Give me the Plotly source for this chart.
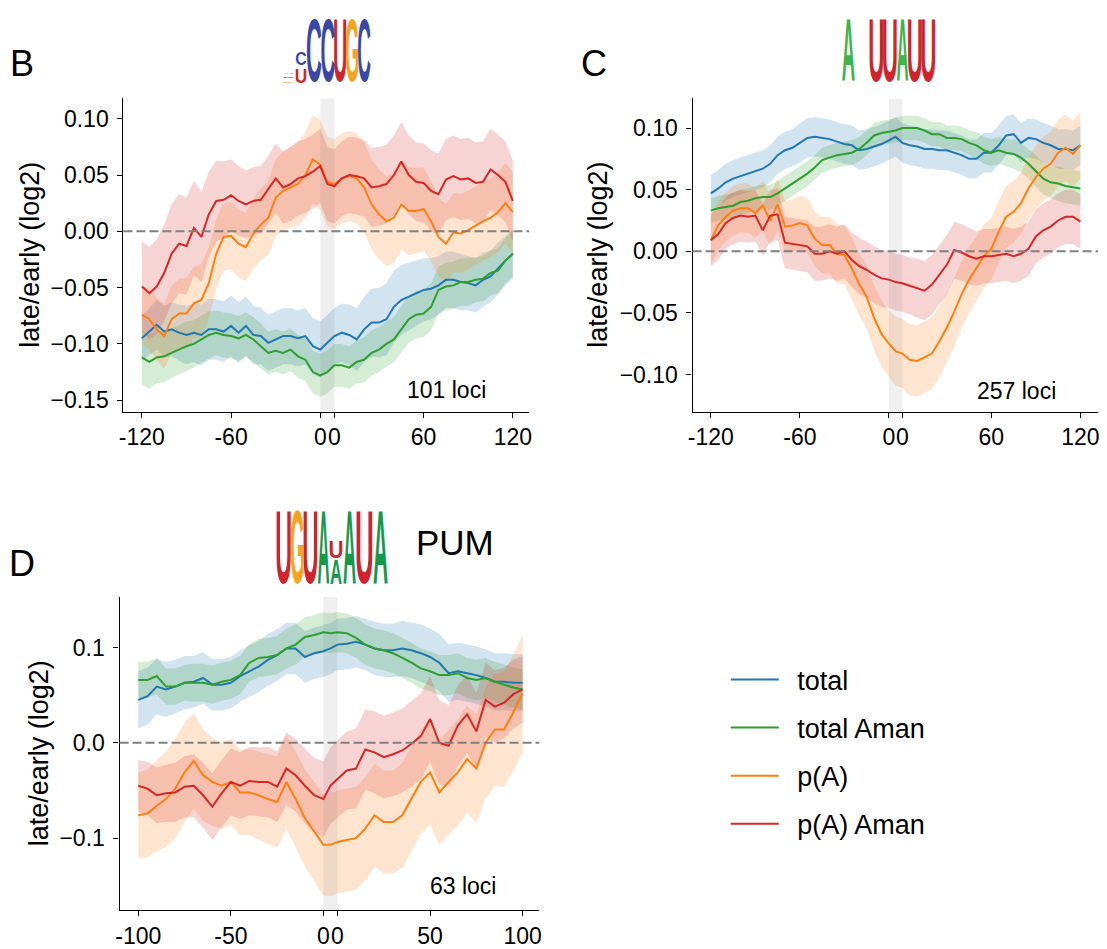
import json
import plotly.graph_objects as go

W, H = 1107, 949
FONT = "Liberation Sans"

# ------------------------------------------------------------------ data
# positions (nt) left of the motif, the motif centre, and right of the motif
POS_B_LEFT = [-120, -115, -110, -105, -100, -95, -90, -85, -80, -75, -70, -65, -60,
              -55, -50, -45, -40, -35, -30, -25, -20, -15, -10, -5, 0]
POS_B_RIGHT = [0, 5, 10, 15, 20, 25, 30, 35, 40, 45, 50, 55, 60, 65, 70, 75, 80,
               85, 90, 95, 100, 105, 110, 115, 120]
POS_D_LEFT = [-100, -95, -90, -85, -80, -75, -70, -65, -60, -55, -50, -45, -40,
              -35, -30, -25, -20, -15, -10, -5, 0]
POS_D_RIGHT = [0, 5, 10, 15, 20, 25, 30, 35, 40, 45, 50, 55, 60, 65, 70, 75, 80,
               85, 90, 95, 100]
MOTIF_B, MOTIF_C, MOTIF_D = 9.5, 9.0, 7.6   # motif width in axis units

SERIES = ["total", "total Aman", "p(A)", "p(A) Aman"]

# Panel B (CCUGC, 101 loci): values = left(25) + motif centre(1) + right(25)
B_TOTAL = [-0.095, -0.089, -0.083, -0.089, -0.087, -0.090, -0.092, -0.090, -0.092, -0.087, -0.087, -0.089, -0.084,
           -0.090, -0.084, -0.092, -0.093, -0.099, -0.096, -0.093, -0.093, -0.095, -0.093, -0.102, -0.105,
           -0.099,
           -0.093, -0.090, -0.092, -0.096, -0.087, -0.081, -0.081, -0.078, -0.067, -0.061, -0.058, -0.055, -0.052,
           -0.051, -0.048, -0.043, -0.043, -0.045, -0.046, -0.048, -0.043, -0.040, -0.033, -0.026, -0.020]
B_TOTAL_HW = [0.020, 0.021, 0.022, 0.023, 0.024, 0.025, 0.026, 0.026, 0.027, 0.027, 0.027, 0.027, 0.027,
              0.027, 0.026, 0.026, 0.025, 0.025, 0.025, 0.025, 0.025, 0.025, 0.025, 0.025, 0.025,
              0.025,
              0.025, 0.026, 0.027, 0.028, 0.029, 0.030, 0.031, 0.032, 0.032, 0.031, 0.030, 0.029, 0.028,
              0.027, 0.026, 0.025, 0.025, 0.025, 0.024, 0.024, 0.024, 0.023, 0.023, 0.022, 0.022]
B_TOTAL_AMAN = [-0.112, -0.116, -0.112, -0.111, -0.108, -0.105, -0.102, -0.100, -0.096, -0.092, -0.090, -0.092, -0.093,
                -0.095, -0.092, -0.096, -0.102, -0.108, -0.106, -0.108, -0.105, -0.111, -0.114, -0.125, -0.128,
                -0.125,
                -0.119, -0.119, -0.121, -0.116, -0.114, -0.108, -0.105, -0.100, -0.096, -0.087, -0.078, -0.074, -0.073,
                -0.067, -0.052, -0.049, -0.048, -0.045, -0.045, -0.043, -0.042, -0.037, -0.035, -0.026, -0.020]
B_TOTAL_AMAN_HW = [0.024, 0.024, 0.023, 0.023, 0.022, 0.022, 0.022, 0.021, 0.021, 0.021, 0.020, 0.020, 0.020,
                   0.020, 0.020, 0.020, 0.020, 0.019, 0.019, 0.019, 0.019, 0.019, 0.019, 0.019, 0.019,
                   0.019,
                   0.019, 0.019, 0.019, 0.019, 0.020, 0.020, 0.020, 0.020, 0.020, 0.020, 0.021, 0.021, 0.021,
                   0.021, 0.021, 0.021, 0.021, 0.021, 0.021, 0.020, 0.020, 0.020, 0.020, 0.020, 0.020]
B_PA = [-0.074, -0.078, -0.087, -0.093, -0.078, -0.073, -0.073, -0.064, -0.061, -0.046, -0.020, -0.005, -0.004,
        -0.011, -0.014, -0.002, 0.006, 0.012, 0.030, 0.036, 0.039, 0.042, 0.050, 0.064, 0.059,
        0.044,
        0.042, 0.047, 0.049, 0.047, 0.039, 0.024, 0.015, 0.009, 0.012, 0.024, 0.018, 0.018, 0.020,
        0.009, -0.005, -0.011, -0.001, -0.002, 0.001, 0.005, 0.009, 0.012, 0.017, 0.025, 0.017]
B_PA_HW = [0.026, 0.027, 0.028, 0.029, 0.030, 0.031, 0.032, 0.032, 0.032, 0.032, 0.031, 0.030, 0.030,
           0.030, 0.030, 0.031, 0.032, 0.033, 0.034, 0.035, 0.036, 0.037, 0.038, 0.039, 0.040,
           0.040,
           0.040, 0.040, 0.040, 0.040, 0.040, 0.040, 0.040, 0.040, 0.040, 0.040, 0.039, 0.038, 0.037,
           0.036, 0.035, 0.035, 0.035, 0.035, 0.035, 0.035, 0.035, 0.035, 0.036, 0.036, 0.036]
B_PA_AMAN = [-0.049, -0.055, -0.049, -0.037, -0.020, -0.011, -0.013, 0.003, -0.005, 0.015, 0.027, 0.028, 0.032,
             0.027, 0.024, 0.027, 0.028, 0.037, 0.047, 0.039, 0.042, 0.047, 0.049, 0.053, 0.058,
             0.042,
             0.040, 0.047, 0.050, 0.049, 0.047, 0.039, 0.040, 0.042, 0.050, 0.062, 0.050, 0.044, 0.043,
             0.036, 0.033, 0.046, 0.049, 0.046, 0.047, 0.043, 0.044, 0.055, 0.050, 0.044, 0.027]
B_PA_AMAN_HW = [0.040, 0.041, 0.042, 0.043, 0.044, 0.044, 0.043, 0.042, 0.040, 0.038, 0.036, 0.034, 0.032,
                0.031, 0.030, 0.030, 0.030, 0.030, 0.031, 0.032, 0.033, 0.033, 0.033, 0.033, 0.033,
                0.033,
                0.033, 0.033, 0.034, 0.034, 0.034, 0.035, 0.035, 0.035, 0.035, 0.035, 0.035, 0.035, 0.035,
                0.036, 0.036, 0.036, 0.036, 0.036, 0.036, 0.036, 0.036, 0.036, 0.036, 0.036, 0.036]

# Panel C (A UUAUU, 257 loci)
C_TOTAL = [0.047, 0.051, 0.056, 0.059, 0.061, 0.063, 0.065, 0.067, 0.071, 0.078, 0.082, 0.084, 0.088,
           0.092, 0.093, 0.092, 0.091, 0.089, 0.087, 0.086, 0.082, 0.083, 0.085, 0.087, 0.090,
           0.093,
           0.088, 0.086, 0.085, 0.083, 0.083, 0.082, 0.082, 0.080, 0.078, 0.075, 0.075, 0.080, 0.080,
           0.086, 0.094, 0.095, 0.088, 0.092, 0.091, 0.088, 0.086, 0.083, 0.083, 0.082, 0.086]
C_TOTAL_HW = [0.015, 0.015, 0.015, 0.015, 0.015, 0.015, 0.015, 0.015, 0.015, 0.015, 0.015, 0.015, 0.016,
              0.016, 0.016, 0.016, 0.016, 0.016, 0.016, 0.016, 0.016, 0.016, 0.016, 0.016, 0.016,
              0.016,
              0.016, 0.016, 0.016, 0.016, 0.016, 0.016, 0.016, 0.016, 0.016, 0.016, 0.016, 0.016, 0.016,
              0.016, 0.016, 0.016, 0.016, 0.016, 0.016, 0.016, 0.016, 0.016, 0.016, 0.016, 0.016]
C_TOTAL_AMAN = [0.033, 0.035, 0.036, 0.037, 0.040, 0.041, 0.043, 0.044, 0.044, 0.047, 0.051, 0.055, 0.059,
                0.063, 0.068, 0.074, 0.076, 0.078, 0.079, 0.080, 0.083, 0.088, 0.094, 0.096, 0.097,
                0.098,
                0.100, 0.100, 0.100, 0.098, 0.095, 0.095, 0.092, 0.092, 0.091, 0.088, 0.086, 0.082, 0.080,
                0.082, 0.080, 0.079, 0.076, 0.071, 0.065, 0.059, 0.056, 0.055, 0.053, 0.052, 0.051]
C_TOTAL_AMAN_HW = [0.010, 0.010, 0.010, 0.010, 0.010, 0.010, 0.010, 0.010, 0.010, 0.010, 0.010, 0.010, 0.010,
                   0.010, 0.010, 0.010, 0.010, 0.010, 0.010, 0.010, 0.010, 0.010, 0.010, 0.010, 0.010,
                   0.010,
                   0.010, 0.010, 0.010, 0.010, 0.010, 0.010, 0.010, 0.010, 0.010, 0.010, 0.011, 0.011, 0.011,
                   0.011, 0.011, 0.012, 0.012, 0.012, 0.013, 0.013, 0.013, 0.014, 0.014, 0.014, 0.014]
C_PA = [0.009, 0.021, 0.028, 0.033, 0.035, 0.035, 0.031, 0.037, 0.025, 0.038, 0.020, 0.021, 0.023,
        0.021, 0.010, 0.005, 0.005, -0.002, -0.003, -0.014, -0.027, -0.037, -0.054, -0.067, -0.075,
        -0.081,
        -0.083, -0.088, -0.089, -0.086, -0.083, -0.073, -0.062, -0.049, -0.035, -0.023, -0.014, -0.004, 0.002,
        0.016, 0.028, 0.032, 0.039, 0.051, 0.060, 0.067, 0.071, 0.080, 0.084, 0.079, 0.086]
C_PA_HW = [0.020, 0.020, 0.020, 0.020, 0.020, 0.020, 0.020, 0.020, 0.021, 0.021, 0.021, 0.021, 0.022,
           0.022, 0.022, 0.023, 0.023, 0.024, 0.024, 0.025, 0.025, 0.026, 0.026, 0.027, 0.027,
           0.028,
           0.028, 0.029, 0.029, 0.029, 0.029, 0.029, 0.028, 0.028, 0.027, 0.027, 0.026, 0.026, 0.025,
           0.025, 0.025, 0.025, 0.025, 0.025, 0.026, 0.026, 0.026, 0.027, 0.027, 0.027, 0.027]
C_PA_AMAN = [0.009, 0.014, 0.023, 0.027, 0.029, 0.028, 0.029, 0.017, 0.029, 0.030, 0.007, 0.006, 0.005,
             0.004, -0.002, -0.002, 0.000, -0.002, 0.000, -0.007, -0.012, -0.015, -0.019, -0.022, -0.023,
             -0.025,
             -0.026, -0.028, -0.030, -0.032, -0.027, -0.019, -0.011, 0.001, -0.001, -0.004, -0.006, -0.004, -0.004,
             -0.003, -0.002, -0.004, -0.002, 0.002, 0.012, 0.017, 0.020, 0.025, 0.028, 0.028, 0.024]
C_PA_AMAN_HW = [0.021, 0.021, 0.021, 0.021, 0.021, 0.021, 0.021, 0.021, 0.021, 0.021, 0.021, 0.021, 0.021,
                0.021, 0.022, 0.022, 0.022, 0.022, 0.022, 0.022, 0.023, 0.023, 0.023, 0.023, 0.023,
                0.023,
                0.023, 0.023, 0.024, 0.024, 0.024, 0.024, 0.024, 0.023, 0.023, 0.023, 0.022, 0.022, 0.022,
                0.022, 0.022, 0.022, 0.022, 0.022, 0.022, 0.022, 0.022, 0.022, 0.022, 0.022, 0.022]

# Panel D (UGUAxAUA, PUM, 63 loci): values = left(21) + motif centre(1) + right(21)
D_TOTAL = [0.045, 0.049, 0.059, 0.056, 0.059, 0.063, 0.064, 0.068, 0.061, 0.061, 0.063, 0.070, 0.075,
           0.080, 0.087, 0.092, 0.099, 0.099, 0.090, 0.094, 0.096,
           0.099,
           0.103, 0.104, 0.106, 0.103, 0.099, 0.097, 0.097, 0.099, 0.097, 0.094, 0.090, 0.084, 0.073,
           0.075, 0.073, 0.071, 0.068, 0.064, 0.064, 0.063, 0.063]
D_TOTAL_HW = [0.030, 0.030, 0.029, 0.029, 0.028, 0.028, 0.027, 0.027, 0.027, 0.027, 0.027, 0.027, 0.027,
              0.027, 0.027, 0.027, 0.027, 0.027, 0.027, 0.027, 0.027,
              0.027,
              0.027, 0.027, 0.027, 0.027, 0.028, 0.028, 0.028, 0.029, 0.029, 0.030, 0.030, 0.030, 0.030,
              0.030, 0.030, 0.030, 0.030, 0.030, 0.030, 0.030, 0.030]
D_TOTAL_AMAN = [0.066, 0.066, 0.070, 0.059, 0.059, 0.063, 0.063, 0.063, 0.061, 0.064, 0.066, 0.071, 0.084,
                0.089, 0.090, 0.092, 0.099, 0.103, 0.111, 0.113, 0.116,
                0.115,
                0.116, 0.115, 0.110, 0.103, 0.099, 0.097, 0.094, 0.089, 0.084, 0.078, 0.075, 0.071, 0.071,
                0.073, 0.068, 0.066, 0.068, 0.064, 0.061, 0.058, 0.056]
D_TOTAL_AMAN_HW = [0.019, 0.019, 0.019, 0.019, 0.019, 0.019, 0.020, 0.020, 0.020, 0.020, 0.020, 0.020, 0.020,
                   0.020, 0.020, 0.020, 0.021, 0.021, 0.021, 0.021, 0.021,
                   0.021,
                   0.021, 0.021, 0.021, 0.021, 0.021, 0.021, 0.021, 0.021, 0.021, 0.021, 0.021, 0.021, 0.021,
                   0.021, 0.021, 0.021, 0.021, 0.021, 0.021, 0.021, 0.021]
D_PA = [-0.076, -0.074, -0.066, -0.059, -0.048, -0.031, -0.019, -0.034, -0.041, -0.045, -0.041, -0.052, -0.052,
        -0.055, -0.059, -0.062, -0.041, -0.059, -0.079, -0.093, -0.107,
        -0.107,
        -0.104, -0.102, -0.100, -0.090, -0.076, -0.083, -0.083, -0.076, -0.059, -0.041, -0.031, -0.052, -0.041,
        -0.031, -0.017, -0.027, 0.000, 0.014, 0.014, 0.032, 0.052]
D_PA_HW = [0.045, 0.046, 0.048, 0.050, 0.052, 0.052, 0.050, 0.048, 0.046, 0.045, 0.045, 0.045, 0.045,
           0.046, 0.047, 0.048, 0.049, 0.050, 0.051, 0.052, 0.053,
           0.054,
           0.054, 0.054, 0.054, 0.054, 0.054, 0.054, 0.054, 0.055, 0.055, 0.055, 0.055, 0.055, 0.055,
           0.056, 0.056, 0.057, 0.058, 0.059, 0.060, 0.061, 0.062]
D_PA_AMAN = [-0.045, -0.048, -0.055, -0.053, -0.052, -0.046, -0.045, -0.055, -0.067, -0.053, -0.041, -0.045, -0.040,
             -0.041, -0.041, -0.046, -0.027, -0.034, -0.045, -0.055, -0.059,
             -0.045,
             -0.038, -0.029, -0.027, -0.007, -0.010, -0.015, -0.012, -0.008, -0.001, 0.007, 0.025, 0.000, -0.003,
             0.018, 0.030, 0.012, 0.045, 0.038, 0.042, 0.051, 0.056]
D_PA_AMAN_HW = [0.027, 0.028, 0.029, 0.030, 0.031, 0.032, 0.033, 0.034, 0.035, 0.035, 0.035, 0.035, 0.036,
                0.036, 0.037, 0.037, 0.038, 0.038, 0.039, 0.039, 0.040,
                0.040,
                0.041, 0.041, 0.042, 0.042, 0.043, 0.043, 0.044, 0.044, 0.045, 0.045, 0.045, 0.044, 0.043,
                0.042, 0.041, 0.040, 0.039, 0.038, 0.037, 0.036, 0.035]

LOCI = ["101 loci", "257 loci", "63 loci"]
PANEL_LETTERS = ["B", "C", "D"]
Y_TITLE = "late/early (log2)"

# sequence logos: letter, colour key, pixel box x0, x1, y0, y1
LOGO_B = [("A", "Ag", 283, 294, 72.3, 74.0), ("C", "C", 283, 294, 76.8, 78.5), ("G", "G", 283, 294, 81.3, 83.0),
          ("C", "C", 296, 306, 51.7, 65.5), ("U", "U", 296, 306, 68.0, 83.0),
          ("C", "C", 307, 321, 17, 83), ("C", "C", 321.5, 334.5, 17, 83), ("U", "U", 334.5, 346, 17, 83),
          ("G", "G", 346, 358, 17, 83), ("C", "C", 358, 370, 17, 83)]
LOGO_C = [("A", "Ag", 841.7, 855, 17, 83), ("U", "U", 870, 883, 17, 83), ("U", "U", 883.5, 896.5, 17, 83),
          ("A", "Ag", 896.5, 908.5, 17, 83), ("U", "U", 908.5, 921.5, 17, 83), ("U", "U", 922, 935, 17, 83)]
LOGO_D = [("U", "U", 277, 290.5, 508, 585), ("G", "G", 291, 303.5, 508, 585), ("U", "U", 304, 317, 508, 585),
          ("A", "Ad", 317.5, 329.5, 508, 585), ("U", "U", 330, 342, 540, 558), ("A", "Ad", 330, 342, 559, 585),
          ("A", "Ad", 343, 356, 508, 585), ("U", "U", 357, 372, 508, 585), ("A", "Ad", 373, 388, 508, 585)]

# ------------------------------------------------------------------ style
COLORS = ["#1f77b4", "#2ca02c", "#ff7f0e", "#d62728"]
FILLS = ["rgba(31,119,180,0.2)", "rgba(44,160,44,0.2)", "rgba(255,127,14,0.2)", "rgba(214,39,40,0.2)"]
LOGO_COL = {"C": "#3a47a6", "U": "#d2232c", "G": "#f5a51d", "Ag": "#3db54a", "Ad": "#14994b"}
INSET = {"U": (0.073, 0.072), "C": (0.044, 0.045), "G": (0.044, 0.061), "A": (0.0, 0.004)}

panels = [
    dict(left=POS_B_LEFT, right=POS_B_RIGHT, w=MOTIF_B,
         series=[(B_TOTAL, B_TOTAL_HW), (B_TOTAL_AMAN, B_TOTAL_AMAN_HW), (B_PA, B_PA_HW), (B_PA_AMAN, B_PA_AMAN_HW)],
         xdom=[119.3 / W, 528.0 / W], ydom=[1 - 415 / H, 1 - 99.3 / H],
         xr=[-132.4, 140.5], yr=[-0.160, 0.118],
         xt=[-120, -60, 0, 0, 60, 120], yt=[-0.15, -0.10, -0.05, 0.0, 0.05, 0.10], yfmt="{:.2f}",
         ytitle_x=25, loci_x=487, loci_y=393, letter_x=3, letter_y=64),
    dict(left=POS_B_LEFT, right=POS_B_RIGHT, w=MOTIF_C,
         series=[(C_TOTAL, C_TOTAL_HW), (C_TOTAL_AMAN, C_TOTAL_AMAN_HW), (C_PA, C_PA_HW), (C_PA_AMAN, C_PA_AMAN_HW)],
         xdom=[692.6 / W, 1101 / W], ydom=[1 - 415 / H, 1 - 99.3 / H],
         xr=[-132.3, 140.9], yr=[-0.130, 0.124],
         xt=[-120, -60, 0, 0, 60, 120], yt=[-0.10, -0.05, 0.0, 0.05, 0.10], yfmt="{:.2f}",
         ytitle_x=597, loci_x=1061, loci_y=394.5, letter_x=578, letter_y=64),
    dict(left=POS_D_LEFT, right=POS_D_RIGHT, w=MOTIF_D,
         series=[(D_TOTAL, D_TOTAL_HW), (D_TOTAL_AMAN, D_TOTAL_AMAN_HW), (D_PA, D_PA_HW), (D_PA_AMAN, D_PA_AMAN_HW)],
         xdom=[115.4 / W, 538.2 / W], ydom=[1 - 918 / H, 1 - 602 / H],
         xr=[-110.1, 116.6], yr=[-0.1756, 0.153],
         xt=[-100, -50, 0, 0, 50, 100], yt=[-0.1, 0.0, 0.1], yfmt="{:.1f}",
         ytitle_x=34, loci_x=497, loci_y=894, letter_x=2, letter_y=568),
]

fig = go.Figure()
annotations = []
logo_specs = []

# logos first so their annotation indices are 0..N-1
for letters in (LOGO_B, LOGO_C, LOGO_D):
    for (ch, ck, x0, x1, y0, y1) in letters:
        annotations.append(dict(text=ch, xref="paper", yref="paper",
                                x=(x0 + x1) / 2 / W, y=1 - (y0 + y1) / 2 / H,
                                xanchor="center", yanchor="middle", showarrow=False,
                                font=dict(family=FONT, size=20, color=LOGO_COL[ck], weight="bold")))
        il, ir = INSET[ch]
        logo_specs.append([x0, x1, y0, y1, il, ir])

for i, p in enumerate(panels):
    ax = "" if i == 0 else str(i + 1)
    xa, ya = "x" + ax, "y" + ax
    w = p["w"]
    xs = list(p["left"]) + [w / 2] + [r + w for r in p["right"]]
    # confidence bands
    for k, (vals, hw) in enumerate(p["series"]):
        up = [v + h for v, h in zip(vals, hw)]
        lo = [v - h for v, h in zip(vals, hw)]
        fig.add_trace(go.Scatter(x=xs + xs[::-1], y=up + lo[::-1], fill="toself",
                                 fillcolor=FILLS[k], line=dict(width=0), mode="lines",
                                 hoverinfo="skip", showlegend=False, xaxis=xa, yaxis=ya))
    # motif region
    y0r, y1r = p["yr"]
    fig.add_trace(go.Scatter(x=[0, w, w, 0, 0], y=[y0r, y0r, y1r, y1r, y0r], fill="toself",
                             fillcolor="rgba(128,128,128,0.13)", line=dict(width=0), mode="lines",
                             hoverinfo="skip", showlegend=False, xaxis=xa, yaxis=ya))
    # mean lines
    for k, (vals, hw) in enumerate(p["series"]):
        fig.add_trace(go.Scatter(x=xs, y=vals, mode="lines", name="\u2002" + SERIES[k],
                                 line=dict(color=COLORS[k], width=2),
                                 legendgroup=SERIES[k], showlegend=(i == 0),
                                 xaxis=xa, yaxis=ya))
    # zero line
    fig.add_shape(type="line", xref=xa + " domain", yref=ya, x0=0, x1=1, y0=0, y1=0,
                  line=dict(color="#808080", width=2, dash="9px,4px"), layer="above")

    xt = p["xt"]
    tickvals_x = [xt[0], xt[1], xt[2], xt[3] + w, xt[4] + w, xt[5] + w]
    ticktext_x = ["{:d}".format(v) for v in xt]
    axis_common = dict(showline=True, linecolor="black", linewidth=1.3, ticks="outside",
                       ticklen=5, tickwidth=1.3, tickcolor="black", showgrid=False,
                       zeroline=False, mirror=False,
                       tickfont=dict(family=FONT, size=23, color="black"))
    fig.layout["xaxis" + ax] = dict(domain=p["xdom"], range=p["xr"], anchor=ya,
                                    tickmode="array", tickvals=tickvals_x, ticktext=ticktext_x,
                                    tickangle=0, **axis_common)
    fig.layout["yaxis" + ax] = dict(domain=p["ydom"], range=p["yr"], anchor=xa,
                                    tickmode="array", tickvals=p["yt"],
                                    ticktext=[p["yfmt"].format(v).replace("-", "\u2212") for v in p["yt"]],
                                    ticklabelstandoff=4, **axis_common)
    annotations.append(dict(text=Y_TITLE, xref="paper", yref="paper", x=p["ytitle_x"] / W,
                            y=(p["ydom"][0] + p["ydom"][1]) / 2, textangle=-90,
                            xanchor="center", yanchor="middle", showarrow=False,
                            font=dict(family=FONT, size=27, color="black")))
    annotations.append(dict(text=LOCI[i], xref="paper", yref="paper", x=p["loci_x"] / W,
                            y=1 - p["loci_y"] / H, xanchor="right", yanchor="middle",
                            showarrow=False, font=dict(family=FONT, size=23, color="black")))
    annotations.append(dict(text=PANEL_LETTERS[i], xref="paper", yref="paper", x=p["letter_x"] / W,
                            y=1 - p["letter_y"] / H, xanchor="left", yanchor="middle",
                            showarrow=False, font=dict(family=FONT, size=36, color="black")))

annotations.append(dict(text="PUM", xref="paper", yref="paper", x=412 / W, y=1 - 547.5 / H,
                        xanchor="left", yanchor="middle", showarrow=False,
                        font=dict(family=FONT, size=35, color="black")))

fig.update_layout(
    width=W, height=H, margin=dict(l=0, r=0, t=0, b=0),
    paper_bgcolor="white", plot_bgcolor="white",
    font=dict(family=FONT, color="black"),
    annotations=annotations,
    showlegend=True,
    legend=dict(x=726 / W, y=1 - 661 / H, xanchor="left", yanchor="top",
                font=dict(family=FONT, size=27, color="black"),
                itemwidth=48, tracegroupgap=10, traceorder="grouped",
                bgcolor="rgba(0,0,0,0)", borderwidth=0),
)

post = """
document.body.style.margin = '0';
var gd = document.getElementById('{plot_id}');
var specs = SPECS;
var groups = gd.querySelectorAll('g.annotation');
for (var k = 0; k < groups.length; k++) {
  var g = groups[k];
  var idx = parseInt(g.getAttribute('data-index'));
  if (!(idx < specs.length)) continue;
  var s = specs[idx];
  var t = g.querySelector('text.annotation-text');
  if (!t) continue;
  var bb = t.getBBox();
  var fs = parseFloat(window.getComputedStyle(t).fontSize);
  var base = bb.y + 0.905 * fs;
  var gy0 = base - 0.728 * fs, gy1 = base + 0.012 * fs;
  var gx0 = bb.x + s[4] * fs, gx1 = bb.x + bb.width - s[5] * fs;
  var M = t.parentNode.getCTM();
  var X0 = s[0] - M.e, X1 = s[1] - M.e, Y0 = s[2] - M.f, Y1 = s[3] - M.f;
  var sx = (X1 - X0) / (gx1 - gx0), sy = (Y1 - Y0) / (gy1 - gy0);
  var tx = X0 - sx * gx0, ty = Y0 - sy * gy0;
  t.setAttribute('transform', 'matrix(' + [sx, 0, 0, sy, tx, ty].join(',') + ')');
}
""".replace("SPECS", json.dumps(logo_specs))

fig.write_html("out.html", post_script=post, config={"displayModeBar": False})
